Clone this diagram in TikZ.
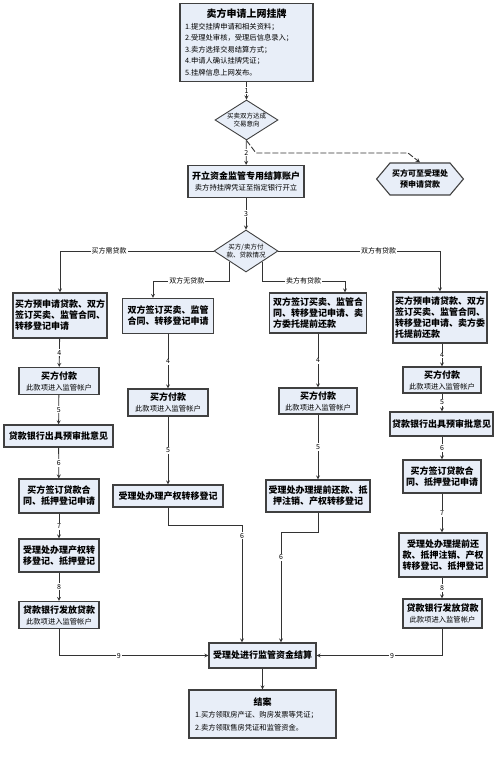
\documentclass[tikz,border=0pt]{standalone}
\usepackage{fontspec}
\setmainfont{Noto Sans CJK SC}
\usepackage{xcolor}
\usetikzlibrary{shapes.geometric, shapes.symbols, arrows}

\definecolor{boxblue}{HTML}{E8EEF8}
\newcommand{\subline}[1]{{\mdseries\fontsize{7.3}{10}\selectfont #1}}

\begin{document}
\begin{tikzpicture}[x=1pt, y=-1pt]
    \useasboundingbox (0, 0) rectangle (500, 759);

    % Define styles for boxes and arrows
    \tikzstyle{process} = [rectangle, draw=black!75, line width=1.1pt, fill=boxblue, inner sep=2pt, align=center, font=\fontsize{9}{11}\selectfont\bfseries]
    \tikzstyle{decision} = [diamond, aspect=1.6, draw=black!75, line width=0.9pt, fill=boxblue, inner sep=0pt, align=center, font=\fontsize{6.5}{8.5}\selectfont]
    \tikzstyle{arrow} = [line width=0.8pt, draw=black!80, ->, >=stealth]
    \tikzstyle{dashed arrow} = [line width=0.9pt, draw=black!80, dash pattern=on 6pt off 2pt, ->, >=stealth]
    \tikzstyle{num} = [fill=white, inner sep=1pt, font=\fontsize{7}{8}\selectfont]
    \tikzstyle{branch} = [fill=white, inner sep=1pt, font=\fontsize{7}{8}\selectfont]

    % boxes
    \node (listing) [process, align=left, text width=123, inner sep=5pt, minimum height=75, font=\fontsize{8.3}{11.6}\selectfont\bfseries] at (246.5, 42.5) {\makebox[123pt]{\fontsize{10}{12}\selectfont 卖方申请上网挂牌}\\
        \subline{1.提交挂牌申请和相关资料；}\\
        \subline{2.受理处审核，受理后信息录入；}\\
        \subline{3.卖方选择交易结算方式；}\\
        \subline{4.申请人确认挂牌凭证；}\\
        \subline{5.挂牌信息上网发布。}};
    \node (intent) [decision, minimum width=63, minimum height=40] at (246.5, 120) {买卖双方达成\\交易意向};
    \node (account) [process, minimum width=116, minimum height=32] at (246, 181.5) {开立资金监管专用结算账户\\\subline{卖方持挂牌凭证至指定银行开立}};
    \node (preapply) [process, signal, signal to=west and east, signal pointer angle=100, minimum width=86, minimum height=32, font=\fontsize{8}{11}\selectfont\bfseries] at (420, 179) {买方可至受理处\\预申请贷款};
    \node (payment) [decision, minimum width=64, minimum height=42] at (246, 251) {买方/卖方付\\款、贷款情况};

    % buyer needs a loan
    \node (c1a) [process, align=left, minimum width=94, minimum height=45] at (60, 315.5) {买方预申请贷款、双方\\签订买卖、监管合同、\\转移登记申请};
    \node (c1b) [process, minimum width=80, minimum height=27] at (59, 381) {买方付款\\\subline{此款项进入监管帐户}};
    \node (c1c) [process, minimum width=109, minimum height=22] at (58.5, 436) {贷款银行出具预审批意见};
    \node (c1d) [process, minimum width=80, minimum height=34] at (59, 496) {买方签订贷款合\\同、抵押登记申请};
    \node (c1e) [process, minimum width=80, minimum height=33] at (59, 555.5) {受理处办理产权转\\移登记、抵押登记};
    \node (c1f) [process, minimum width=80, minimum height=27] at (59, 615) {贷款银行发放贷款\\\subline{此款项进入监管帐户}};

    % no loan on either side
    \node (c2a) [process, align=left, minimum width=91, minimum height=35] at (168, 316) {双方签订买卖、监管\\合同、转移登记申请};
    \node (c2b) [process, minimum width=80, minimum height=27] at (168, 402.5) {买方付款\\\subline{此款项进入监管帐户}};
    \node (c2c) [process, minimum width=110, minimum height=22] at (168, 496) {受理处办理产权转移登记};

    % seller has a loan
    \node (c3a) [process, align=left, minimum width=97, minimum height=40] at (318, 313) {双方签订买卖、监管合\\同、转移登记申请、卖\\方委托提前还款};
    \node (c3b) [process, minimum width=78, minimum height=26] at (318, 401) {买方付款\\\subline{此款项进入监管帐户}};
    \node (c3c) [process, minimum width=104, minimum height=32] at (318, 496) {受理处办理提前还款、抵\\押注销、产权转移登记};

    % both have loans
    \node (c4a) [process, align=left, minimum width=91, minimum height=51] at (440, 317.5) {买方预申请贷款、双方\\签订买卖、监管合同、\\转移登记申请、卖方委\\托提前还款};
    \node (c4b) [process, minimum width=78, minimum height=26] at (442, 380) {买方付款\\\subline{此款项进入监管帐户}};
    \node (c4c) [process, minimum width=103, minimum height=24] at (441.5, 424) {贷款银行出具预审批意见};
    \node (c4d) [process, minimum width=78, minimum height=33] at (442, 476.5) {买方签订贷款合\\同、抵押登记申请};
    \node (c4e) [process, minimum width=88, minimum height=44] at (443, 555) {受理处办理提前还\\款、抵押注销、产权\\转移登记、抵押登记};
    \node (c4f) [process, minimum width=79, minimum height=29] at (442.5, 613.5) {贷款银行发放贷款\\\subline{此款项进入监管帐户}};

    \node (settle) [process, minimum width=107, minimum height=25] at (262.5, 655.5) {受理处进行监管资金结算};
    \node (close) [process, align=left, text width=135, inner sep=6pt, minimum height=48, font=\fontsize{9}{12.5}\selectfont\bfseries] at (262.5, 714) {\makebox[135pt]{结案}\\
        \subline{1.买方领取房产证、购房发票等凭证；}\\
        \subline{2.卖方领取售房凭证和监管资金。}};

    % bends
    \coordinate (dashA) at (256, 153);
    \coordinate (dashB) at (408, 153);
    \coordinate (c2in) at (153, 281);
    \coordinate (c3in) at (345, 281);
    \coordinate (c2out) at (242, 525);
    \coordinate (c3out) at (281, 532);

    % Arrows
    \draw [arrow] (listing) -- node [num] {1} (intent);
    \draw [arrow] (intent) -- node [num] {2} (account);
    \draw [dashed arrow] (intent.south) -- (dashA) -- (dashB) -- (preapply.north);
    \draw [arrow] (account) -- node [num] {3} (payment);
    \draw [arrow] (payment.west) -| node [branch, pos=0.34] {买方需贷款} (c1a.north);
    \draw [arrow] (payment.east) -| node [branch, pos=0.31] {双方有贷款} (c4a.north);
    \draw [arrow] (payment.south west) |- node [branch, pos=0.78] {双方无贷款} (c2in) -- (c2in |- c2a.north);
    \draw [arrow] (payment.south east) |- node [branch, pos=0.75] {卖方有贷款} (c3in) -- (c3in |- c3a.north);

    \draw [arrow] (c1a) -- node [num] {4} (c1b);
    \draw [arrow] (c1b) -- node [num] {5} (c1c);
    \draw [arrow] (c1c) -- node [num] {6} (c1d);
    \draw [arrow] (c1d) -- node [num] {7} (c1e);
    \draw [arrow] (c1e) -- node [num] {8} (c1f);
    \draw [arrow] (c1f.south) |- node [num, pos=0.7] {9} (settle.west);

    \draw [arrow] (c2a) -- node [num] {4} (c2b);
    \draw [arrow] (c2b) -- node [num] {5} (c2c);
    \draw [arrow] (c2c.south) |- (c2out) -- node [num, pos=0.09] {6} (c2out |- settle.north);

    \draw [arrow] (c3a) -- node [num] {4} (c3b);
    \draw [arrow] (c3b) -- node [num] {5} (c3c);
    \draw [arrow] (c3c.south) |- (c3out) -- node [num, pos=0.23] {6} (c3out |- settle.north);

    \draw [arrow] (c4a.south -| c4b) -- node [num] {4} (c4b);
    \draw [arrow] (c4b) -- node [num] {5} (c4c.north -| c4b);
    \draw [arrow] (c4c.south -| c4b) -- node [num] {6} (c4d);
    \draw [arrow] (c4d) -- node [num] {7} (c4e.north -| c4d);
    \draw [arrow] (c4e.south -| c4d) -- node [num] {8} (c4f.north -| c4d);
    \draw [arrow] (c4f.south) |- node [num, pos=0.7] {9} (settle.east);

    \draw [arrow] (settle) -- (close);
\end{tikzpicture}
\end{document}
